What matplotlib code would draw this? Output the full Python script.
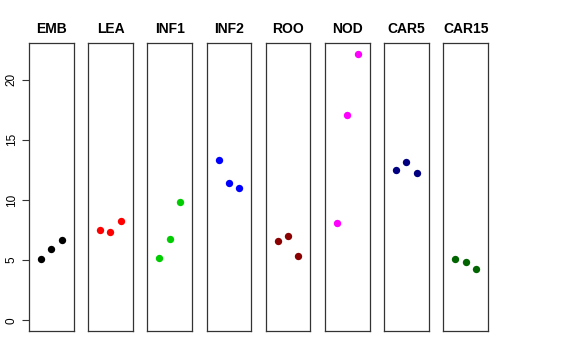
import matplotlib
matplotlib.use("Agg")
import matplotlib.pyplot as plt

plt.rcParams["font.family"] = ["Liberation Sans", "DejaVu Sans"]

# data
groups = ["EMB", "LEA", "INF1", "INF2", "ROO", "NOD", "CAR5", "CAR15"]
colors = ["black", "red", "#00CD00", "blue", "#8B0000", "magenta", "#000080", "#006400"]
emb = [5.12, 5.93, 6.65]
lea = [7.50, 7.34, 8.23]
inf1 = [5.18, 6.73, 9.81]
inf2 = [13.30, 11.39, 11.02]
roo = [6.59, 7.01, 5.37]
nod = [8.06, 17.04, 22.16]
car5 = [12.49, 13.19, 12.22]
car15 = [5.10, 4.87, 4.24]
values = [emb, lea, inf1, inf2, roo, nod, car5, car15]
xpos = [1, 2, 3]
yticks = [0, 5, 10, 15, 20]

W, H = 576, 360
fig = plt.figure(figsize=(W / 100, H / 100), dpi=100)

left0 = 29.0
step = 59.2
pw = 44.5
top, bottom = 43.0, 331.0
ymax = max(max(v) for v in values)
pad = 0.04 * ymax

for i, (name, col, vals) in enumerate(zip(groups, colors, values)):
    ax = fig.add_axes([(left0 + i * step) / W, (H - bottom) / H,
                       pw / W, (bottom - top) / H])
    ax.scatter(xpos, vals, s=28, color=col, linewidths=0, zorder=3)
    ax.set_xlim(-0.16, 4.16)
    ax.set_ylim(-pad, ymax + pad)
    ax.set_xticks([])
    ax.set_title(name, fontsize=10, fontweight="bold", pad=7)
    for sp in ax.spines.values():
        sp.set_linewidth(0.9)
        sp.set_color("#333333")
    if i == 0:
        ax.set_yticks(yticks)
        ax.set_yticklabels([str(t) for t in yticks], rotation=90, va="center",
                           fontsize=8.5)
        ax.tick_params(axis="y", length=5, width=0.8, pad=3, color="#333333")
    else:
        ax.set_yticks([])

fig.savefig("out.png", dpi=100)
